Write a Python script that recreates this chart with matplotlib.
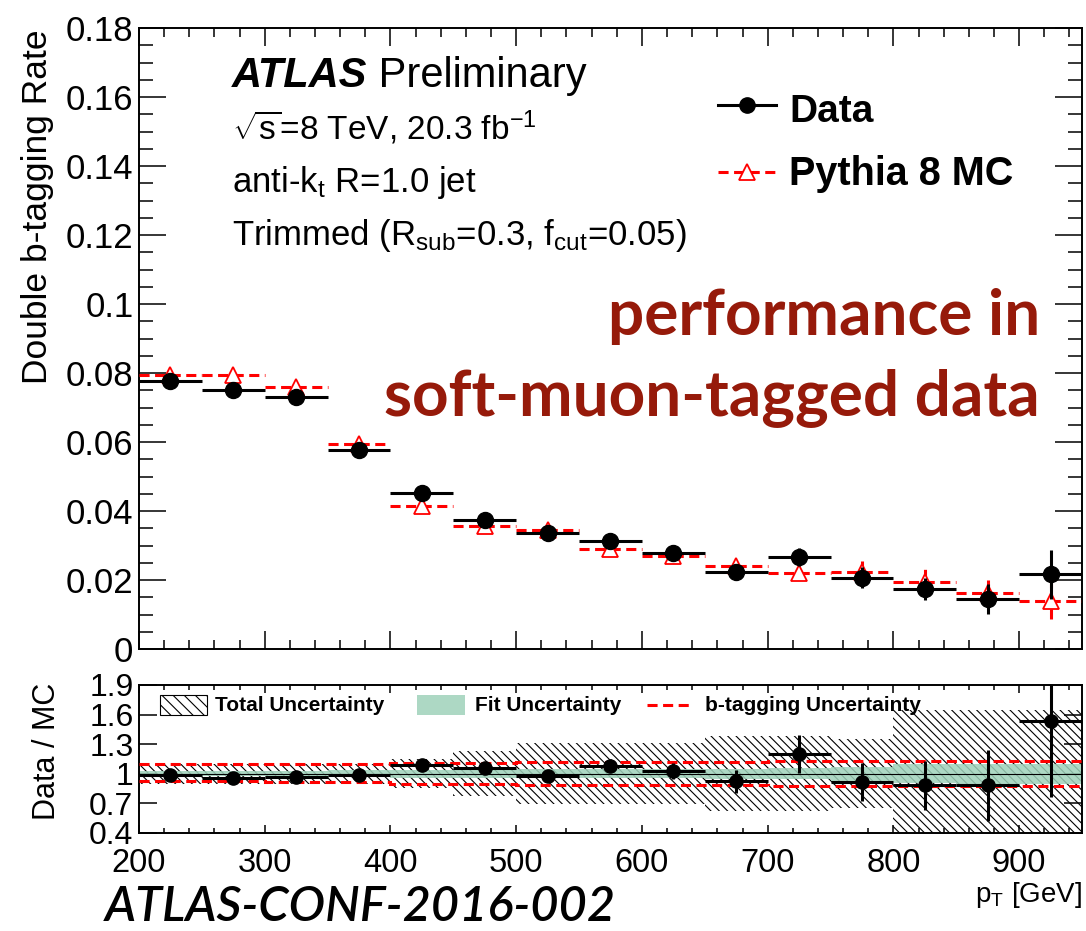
import numpy as np
import matplotlib.pyplot as plt
from matplotlib.lines import Line2D
from matplotlib.patches import Rectangle
from matplotlib.ticker import MultipleLocator, FixedLocator, FuncFormatter

plt.rcParams["font.family"] = ["Liberation Sans", "DejaVu Sans"]
plt.rcParams["mathtext.fontset"] = "custom"
plt.rcParams["mathtext.rm"] = "Liberation Sans"
plt.rcParams["mathtext.it"] = "Liberation Sans:italic"
plt.rcParams["mathtext.bf"] = "Liberation Sans:bold"
plt.rcParams["hatch.linewidth"] = 0.8

# -----------------------
# DATA
# -----------------------
bin_edges = [200, 250, 300, 350, 400, 450, 500, 550, 600, 650, 700, 750, 800, 850, 900, 950]

data_rate = [0.0777, 0.0750, 0.0729, 0.0577, 0.0451, 0.0373, 0.0336, 0.0312,
             0.0279, 0.0224, 0.0267, 0.0207, 0.0173, 0.0144, 0.0216]
data_err = [0.0004, 0.0004, 0.0004, 0.0005, 0.0006, 0.0006, 0.0006, 0.0009,
            0.0014, 0.0012, 0.0027, 0.0031, 0.0032, 0.0043, 0.0071]
mc_rate = [0.0794, 0.0795, 0.0760, 0.0593, 0.0414, 0.0356, 0.0346, 0.0290,
           0.0270, 0.0241, 0.0221, 0.0224, 0.0194, 0.0163, 0.0139]
mc_err = [0.0003, 0.0003, 0.0003, 0.0004, 0.0005, 0.0005, 0.0006, 0.0006,
          0.0008, 0.0010, 0.0010, 0.0031, 0.0037, 0.0036, 0.0053]

ratio = [0.990, 0.956, 0.966, 0.983, 1.088, 1.057, 0.973, 1.081,
         1.030, 0.922, 1.202, 0.916, 0.882, 0.882, 1.536]
ratio_err = [0.02, 0.02, 0.02, 0.02, 0.04, 0.04, 0.04, 0.067,
             0.084, 0.115, 0.19, 0.19, 0.25, 0.36, 0.77]
total_unc = [0.10, 0.10, 0.10, 0.10, 0.145, 0.23, 0.31, 0.31,
             0.31, 0.38, 0.38, 0.35, 0.65, 0.65, 0.65]
fit_unc = [0.025, 0.025, 0.03, 0.035, 0.04, 0.04, 0.045, 0.045,
           0.045, 0.05, 0.055, 0.07, 0.095, 0.10, 0.10]
btag_up = [1.100, 1.100, 1.100, 1.100, 1.112, 1.112, 1.115, 1.115,
           1.118, 1.122, 1.125, 1.125, 1.127, 1.128, 1.128]
btag_dn = [0.922, 0.922, 0.920, 0.918, 0.896, 0.894, 0.890, 0.890,
           0.886, 0.882, 0.880, 0.878, 0.876, 0.875, 0.875]

ratio_ticks = [0.4, 0.7, 1.0, 1.3, 1.6, 1.9]

# -----------------------
# HELPERS
# -----------------------
W, H = 1086, 931


def fx(px):
    return px / W


def fy(py):
    return 1 - py / H


edges = np.array(bin_edges, dtype=float)
centers = 0.5 * (edges[:-1] + edges[1:])
half = 0.5 * np.diff(edges)
total = np.array(total_unc)
fit = np.array(fit_unc)
dash = (0, (3.3, 1.8))
gfmt = FuncFormatter(lambda v, p: f"{v:g}")
green = "#9fd2ba"

fig = plt.figure(figsize=(W / 100, H / 100), dpi=100)
ax = fig.add_axes([fx(139), fy(649), fx(1082) - fx(139), fy(28) - fy(649)])
axr = fig.add_axes([fx(139), fy(833), fx(1082) - fx(139), fy(685) - fy(833)])

# -----------------------
# MAIN PANEL
# -----------------------
mc = ax.errorbar(centers, mc_rate, xerr=half, yerr=mc_err, fmt="^", color="red",
                 mfc="white", mec="red", ms=11.5, mew=1.3, elinewidth=2.2,
                 capsize=0, zorder=3)
for c in mc[2]:
    c.set_linestyle(dash)
ax.errorbar(centers, data_rate, xerr=half, yerr=data_err, fmt="o", color="black",
            ms=11.5, elinewidth=2.2, capsize=0, zorder=4)

ax.set_xlim(200, 950)
ax.set_ylim(0, 0.18)
ax.yaxis.set_major_locator(MultipleLocator(0.02))
ax.yaxis.set_minor_locator(MultipleLocator(0.005))
ax.xaxis.set_major_locator(MultipleLocator(100))
ax.xaxis.set_minor_locator(MultipleLocator(20))
ax.yaxis.set_major_formatter(gfmt)
ax.tick_params(which="both", direction="in", top=True, right=True, width=1.1,
               labelbottom=False)
ax.tick_params(axis="y", which="major", length=19.5, labelsize=25, pad=4)
ax.tick_params(axis="y", which="minor", length=10)
ax.tick_params(axis="x", which="major", length=13)
ax.tick_params(axis="x", which="minor", length=6.5)

# -----------------------
# RATIO PANEL
# -----------------------
axr.stairs(1 + total, edges, baseline=1 - total, fill=True, facecolor="none",
           edgecolor="black", hatch="\\\\\\\\", linewidth=0, zorder=1)
axr.stairs(1 + fit, edges, baseline=1 - fit, fill=True, facecolor=green,
           edgecolor=green, alpha=0.85, linewidth=0, zorder=2)
axr.axhline(1, color="black", lw=0.8, zorder=2)
axr.stairs(btag_up, edges, baseline=None, color="red", lw=2.2, ls=dash, zorder=3)
axr.stairs(btag_dn, edges, baseline=None, color="red", lw=2.2, ls=dash, zorder=3)
axr.errorbar(centers, ratio, xerr=half, yerr=ratio_err, fmt="o", color="black",
             ms=9.5, elinewidth=2.2, capsize=0, zorder=4)

axr.set_xlim(200, 950)
axr.set_ylim(0.4, 1.9)
axr.yaxis.set_major_locator(FixedLocator(ratio_ticks))
axr.yaxis.set_major_formatter(gfmt)
axr.xaxis.set_major_locator(MultipleLocator(100))
axr.xaxis.set_minor_locator(MultipleLocator(20))
axr.tick_params(which="both", direction="in", top=True, right=True, width=1.1)
axr.tick_params(axis="y", which="major", length=13, labelsize=23, pad=4)
axr.tick_params(axis="x", which="major", length=6, labelsize=23.5, pad=11)
axr.tick_params(axis="x", which="minor", length=3.5)

for a in (ax, axr):
    for s in a.spines.values():
        s.set_linewidth(1.4)

# ratio legend
leg_y = fy(705)
fig.add_artist(Rectangle((fx(160), fy(715)), fx(207) - fx(160), fy(695) - fy(715),
                         transform=fig.transFigure, facecolor="white",
                         edgecolor="black", hatch="\\\\\\", lw=0.8))
fig.text(fx(215), fy(711), "Total Uncertainty", fontsize=15, fontweight="bold")
fig.add_artist(Rectangle((fx(417), fy(715)), fx(465) - fx(417), fy(695) - fy(715),
                         transform=fig.transFigure, facecolor=green,
                         edgecolor="none", alpha=0.85))
fig.text(fx(475), fy(711), "Fit Uncertainty", fontsize=15, fontweight="bold")
fig.add_artist(Line2D([fx(647), fx(690)], [leg_y, leg_y], transform=fig.transFigure,
                      color="red", lw=2.2, ls=dash))
fig.text(fx(705), fy(711), "b-tagging Uncertainty", fontsize=15, fontweight="bold")

# main legend
fig.add_artist(Line2D([fx(718), fx(776)], [fy(105), fy(105)], transform=fig.transFigure,
                      color="black", lw=2.2))
fig.add_artist(Line2D([fx(747)], [fy(105)], transform=fig.transFigure, marker="o",
                      color="black", ms=11))
fig.text(fx(789), fy(122), "Data", fontsize=28, fontweight="bold")
fig.add_artist(Line2D([fx(718), fx(776)], [fy(172), fy(172)], transform=fig.transFigure,
                      color="red", lw=2.2, ls=dash))
fig.add_artist(Line2D([fx(747)], [fy(172)], transform=fig.transFigure, marker="^",
                      color="red", mfc="white", ms=11, mew=1.3))
fig.text(fx(789), fy(185), "Pythia 8 MC", fontsize=28.5, fontweight="bold")

# labels and annotations
t = fig.text(fx(232), fy(87), "ATLAS", fontsize=30, fontweight="bold", style="italic")
ax.annotate(" Preliminary", xy=(1, 0), xycoords=t, fontsize=30, va="bottom")
fig.text(fx(232), fy(140), r"$\sqrt{\mathregular{s}}$=8 TeV, 20.3 fb$^{\mathregular{-1}}$",
         fontsize=24)
fig.text(fx(232), fy(192), r"anti-k$_\mathregular{t}$ R=1.0 jet", fontsize=25)
fig.text(fx(232), fy(245),
         r"Trimmed (R$_\mathregular{sub}$=0.3, f$_\mathregular{cut}$=0.05)", fontsize=25)

fig.text(fx(1040), fy(335), "performance in", fontsize=46, fontweight="bold",
         family="Lato", color="#961a0a", ha="right")
fig.text(fx(1040), fy(415), "soft-muon-tagged data", fontsize=46, fontweight="bold",
         family="Lato", color="#961a0a", ha="right")

fig.text(fx(38), fy(29), "Double b-tagging Rate", rotation=90, ha="center", va="top",
         fontsize=25.5)
fig.text(fx(47), fy(683), "Data / MC", rotation=90, ha="center", va="top", fontsize=22)
fig.text(fx(1082), fy(902), r"p$_\mathregular{T}$ [GeV]", ha="right", fontsize=20)
fig.text(fx(105), fy(921), "ATLAS-CONF-2016-002", fontsize=35, family="Lato",
         style="italic", fontweight="semibold")

fig.savefig("out.png", dpi=100)
